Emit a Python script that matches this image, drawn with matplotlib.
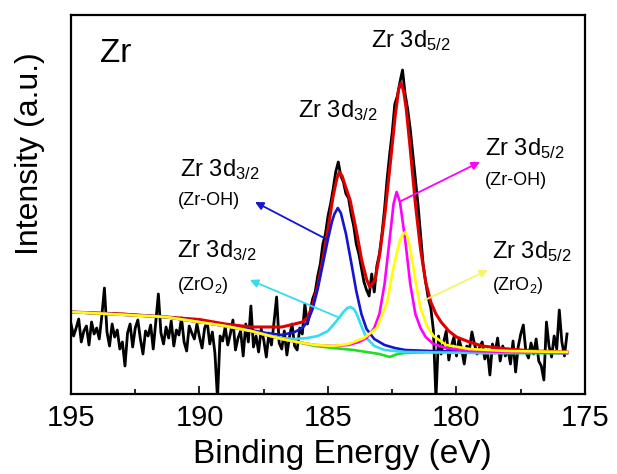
import matplotlib.pyplot as plt
import numpy as np

plt.rcParams['font.family'] = ['Liberation Sans', 'DejaVu Sans']
plt.rcParams['mathtext.fontset'] = 'custom'
plt.rcParams['mathtext.rm'] = 'Liberation Sans'
plt.rcParams['mathtext.it'] = 'Liberation Sans:italic'

# raw spectrum, binding energy in 0.1 eV steps (195.0 -> 175.7)
energy = np.round(np.arange(195.0, 175.65, -0.1), 1)
counts = [
    70, 58, 66, 75, 52, 63, 68, 49, 72, 60,
    66, 55, 78, 106, 62, 48, 70, 57, 64, 45,
    52, 28, 61, 70, 47, 66, 74, 55, 40, 63,
    58, 69, 45, 72, 100, 61, 50, 67, 56, 73,
    48, 64, 59, 76, 52, 43, 68, 61, 55, 70,
    57, 46, 66, 72, 50, 62, 41, -5, 58, 53,
    67, 49, 60, 74, 44, 56, 63, 38, 70, 52,
    88, 47, 58, 42, 65, 54, 37, 61, 49, 72,
    97, 51, 45, 63, 39, 57, 70, 48, 44, 66,
    60, 90, 70, 82, 95, 102, 118, 130, 150, 160,
    178, 190, 205, 222, 232, 218, 212, 200, 196, 180,
    168, 150, 140, 126, 112, 104, 98, 120, 102, 128,
    140, 160, 185, 215, 240, 262, 290, 298, 312, 324,
    300, 285, 265, 240, 215, 190, 160, 130, 112, 96,
    86, 64, -5, 58, 40, 52, 63, 34, 48, 57,
    38, 55, 45, 30, 48, 44, 62, 50, 40, 47,
    52, 35, 44, 19, 50, 41, 56, 33, 48, 38,
    45, 30, 53, 22, 47, 60, 69, 42, 36, 51,
    40, 55, 33, 28, 14, 72, 48, 37, 58, 45,
    84, 52, 38, 60,
]

# background
bg_e = [195, 193, 191.3, 190, 189, 188, 187.4, 186.8, 186.2, 185.5, 184.8, 184, 183.5, 183,
        182.6, 182.3, 182, 181, 179, 175.7]
bg_i = [82, 80, 77, 74, 68, 63, 59, 55, 52, 48, 46, 44, 42, 40, 37, 40, 41, 42, 41, 41]

# envelope
env_e = [195, 193, 191.3, 190, 189, 188, 187.4, 186.8, 186.3, 186.0, 185.8, 185.6, 185.4, 185.2,
         185.0, 184.8, 184.65, 184.56, 184.45, 184.3, 184.14, 183.88, 183.69, 183.49, 183.37,
         183.17, 182.98, 182.78, 182.59, 182.39, 182.25, 182.16, 182.06, 181.96, 181.8, 181.6,
         181.4, 181.2, 181.0, 180.8, 180.6, 180.3, 180.0, 179.5, 179.0, 178, 177, 175.7]
env_i = [82, 80, 77, 74.5, 70, 67, 67, 67, 70, 72, 76, 88, 108, 135,
         165, 198, 216, 222, 218, 206, 194, 161, 134, 114, 107,
         114, 141, 181, 227, 277, 305, 311, 303, 286, 245, 190,
         145, 112, 92, 80, 72, 63, 57, 52, 48, 45, 43, 42]

# Zr 3d3/2 (Zr-OH)
oh32_e = [195, 191.3, 189, 188, 187.4, 186.8, 186.3, 186.0, 185.8, 185.6, 185.4, 185.2, 185.0,
          184.85, 184.75, 184.62, 184.5, 184.3, 184.1, 183.9, 183.7, 183.5, 183.2, 182.8,
          182.4, 182.0, 181, 179, 175.7]
oh32_i = [82, 77, 68, 64, 61, 59, 62, 66, 72, 85, 105, 130, 155,
          172, 180, 186, 181, 160, 132, 103, 80, 65, 55, 49,
          46, 44, 43, 42, 41]

# Zr 3d3/2 (ZrO2)
o32_e = [195, 191.3, 189, 188, 187.4, 186.8, 186.3, 185.8, 185.4, 185.0, 184.7, 184.4, 184.25,
         184.12, 184.0, 183.9, 183.7, 183.5, 183.2, 182.8, 182.4, 182.0, 179, 175.7]
o32_i = [82, 77, 68, 63, 59, 56, 55, 56, 58, 63, 72, 82, 86,
         87, 85, 81, 68, 56, 48, 44, 43, 42, 41, 41]

# Zr 3d5/2 (Zr-OH)
oh52_e = [195, 191.3, 189, 188, 187.4, 186.8, 186.2, 185.5, 184.8, 184.2, 183.8, 183.5, 183.2,
          183.0, 182.8, 182.6, 182.45, 182.33, 182.2, 182.0, 181.8, 181.6, 181.4, 181.2,
          180.9, 180.4, 179.5, 178, 175.7]
oh52_i = [82, 77, 68, 63, 59, 55, 52, 49, 48, 49, 52, 56, 66,
          80, 110, 155, 190, 202, 192, 155, 110, 80, 66, 57,
          50, 46, 43, 42, 41]

# Zr 3d5/2 (ZrO2)
o52_e = [195, 191.3, 189, 188, 187.4, 186.8, 186.2, 185.5, 184.8, 184.2, 183.6, 183.1, 182.7,
         182.45, 182.2, 182.08, 181.99, 181.9, 181.8, 181.6, 181.4, 181.15, 180.9, 180.4,
         179.5, 178, 175.7]
o52_i = [82, 77, 68, 63, 59, 55, 52, 49, 48, 50, 56, 66, 92,
         127, 154, 160, 162, 157, 145, 114, 86, 68, 58, 49,
         45, 43, 42]

fig = plt.figure(figsize=(6.17, 4.74), dpi=100)
ax = fig.add_axes([71 / 617, 80 / 474, 514 / 617, 379 / 474])

ax.plot(energy, counts, color='black', lw=2.0)
ax.plot(bg_e, bg_i, color='#22dd22', lw=1.9)
ax.plot(env_e, env_i, color='#e00000', lw=2.2)
ax.plot(oh32_e, oh32_i, color='#1515d0', lw=1.9)
ax.plot(o32_e, o32_i, color='#35dcee', lw=1.9)
ax.plot(oh52_e, oh52_i, color='#ff00ff', lw=1.9)
ax.plot(o52_e, o52_i, color='#ffff00', lw=1.9)

ax.set_xlim(195, 175)
ax.set_ylim(0, 379)
ax.set_xticks([195, 190, 185, 180, 175])
ax.set_xticks([192.5, 187.5, 182.5, 177.5], minor=True)
ax.set_yticks([])
ax.tick_params(axis='x', which='major', direction='in', length=6, width=1.2, labelsize=21, pad=7)
ax.tick_params(axis='x', which='minor', direction='in', length=3.5, width=1.2)
for s in ax.spines.values():
    s.set_linewidth(1.6)

ax.set_xlabel('Binding Energy (eV)', fontsize=24)
ax.xaxis.set_label_coords(0.528, -0.12)
ax.set_ylabel('Intensity (a.u.)', fontsize=23)
ax.yaxis.set_label_coords(-0.05, 0.634)

ax.text(193.87, 332, 'Zr', fontsize=24)
ax.text(183.33, 347, r'Zr 3d$_{\mathrm{5/2}}$', fontsize=17)
ax.text(186.17, 277, r'Zr 3d$_{\mathrm{3/2}}$', fontsize=17)
ax.text(190.76, 218, r'Zr 3d$_{\mathrm{3/2}}$', fontsize=17)
ax.text(190.84, 189, '(Zr-OH)', fontsize=13)
ax.text(190.88, 137, r'Zr 3d$_{\mathrm{3/2}}$', fontsize=17)
ax.text(190.88, 104, r'(ZrO$_{\mathrm{2}}$)', fontsize=13)
ax.text(178.89, 239, r'Zr 3d$_{\mathrm{5/2}}$', fontsize=17)
ax.text(178.89, 209, '(Zr-OH)', fontsize=13)
ax.text(178.62, 136, r'Zr 3d$_{\mathrm{5/2}}$', fontsize=17)
ax.text(178.62, 104, r'(ZrO$_{\mathrm{2}}$)', fontsize=13)

# arrows from each component to its label
arrows = [((185.0, 154), (187.84, 192), '#1515d0'),
          ((184.53, 76), (188.04, 114), '#35dcee'),
          ((182.16, 193), (179.09, 232), '#ff00ff'),
          ((181.23, 94), (178.77, 124), '#f5f56a')]
for tail, head, c in arrows:
    ax.annotate('', xy=head, xytext=tail,
                arrowprops=dict(arrowstyle='-|>', color=c, lw=1.3, mutation_scale=12,
                                shrinkA=0, shrinkB=0))

plt.savefig('out.png', dpi=100)
